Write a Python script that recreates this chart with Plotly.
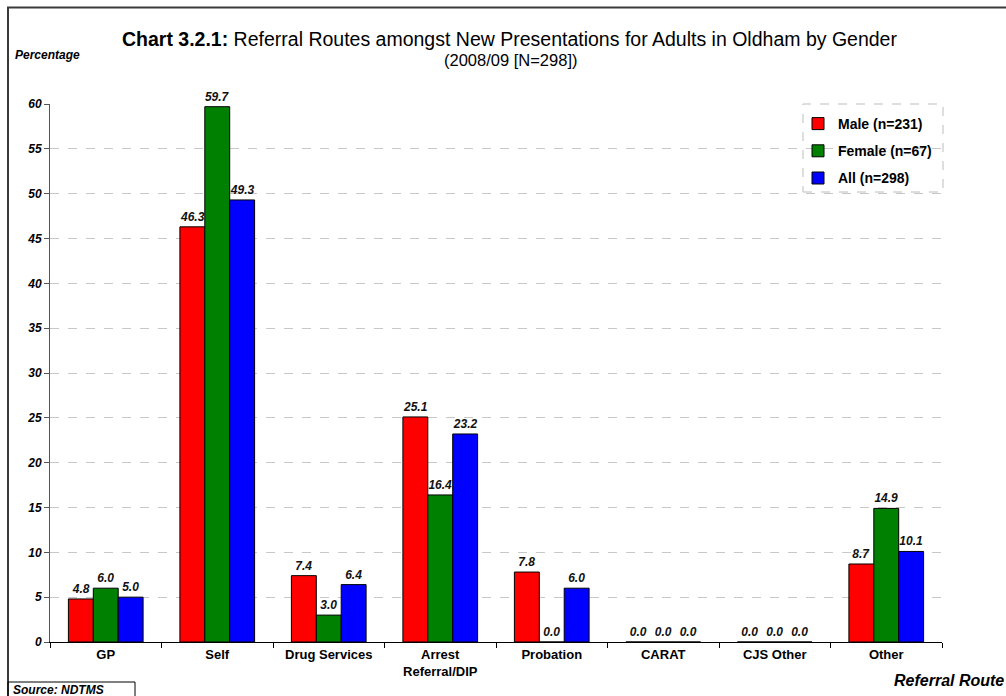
import plotly.graph_objects as go

# Referral routes (x-axis categories)
routes = ["GP", "Self", "Drug Services", "Arrest<br>Referral/DIP",
          "Probation", "CARAT", "CJS Other", "Other"]

# Percentages by gender group
male = [4.8, 46.3, 7.4, 25.1, 7.8, 0.0, 0.0, 8.7]
female = [6.0, 59.7, 3.0, 16.4, 0.0, 0.0, 0.0, 14.9]
all_people = [5.0, 49.3, 6.4, 23.2, 6.0, 0.0, 0.0, 10.1]

series_names = ["Male (n=231)", "Female (n=67)", "All (n=298)"]
series_colors = ["#ff0000", "#008000", "#0000ff"]
y_ticks = list(range(0, 61, 5))

FONT = "Liberation Sans, Arial, sans-serif"

fig = go.Figure()
for name, vals, col in zip(series_names, [male, female, all_people], series_colors):
    fig.add_trace(go.Bar(
        x=routes, y=vals, name=name, legendgroup=name,
        marker=dict(color=col, line=dict(color="#000000", width=1)),
        text=[f"{v:.1f}" for v in vals], textposition="outside",
        textfont=dict(family=FONT, size=12, color="#111111", weight="bold", style="italic"),
        cliponaxis=False,
    ))

# plot-area geometry in pixels (for paper-coordinate decorations)
W, H = 1006, 696
L, R, T, B = 50, 64, 104, 54
pw, ph = W - L - R, H - T - B


def px(x):
    return (x - L) / pw


def py(y):
    return (H - B - y) / ph


fig.update_layout(
    width=W, height=H,
    margin=dict(l=L, r=R, t=T, b=B),
    paper_bgcolor="white", plot_bgcolor="white",
    barmode="group", bargap=0.33, bargroupgap=0,
    font=dict(family=FONT, color="#000000"),
    showlegend=True,
    legend=dict(
        x=px(798), y=py(108), xanchor="left", yanchor="top",
        bgcolor="rgba(255,255,255,0)", borderwidth=0,
        font=dict(family=FONT, size=14, weight="bold"),
        tracegroupgap=6, itemwidth=30,
    ),
    xaxis=dict(
        showline=True, linecolor="#000000", linewidth=1,
        ticks="outside", ticklen=5, tickcolor="#000000", tickson="boundaries",
        tickfont=dict(family=FONT, size=13, weight="bold"),
        showgrid=False,
    ),
    yaxis=dict(
        range=[0, 60], tickvals=y_ticks,
        showline=True, linecolor="#555555", linewidth=1,
        ticks="outside", ticklen=5, tickcolor="#555555",
        tickfont=dict(family=FONT, size=12, weight="bold", style="italic"),
        showgrid=True, gridcolor="#c8c8c8", griddash="dash", gridwidth=1,
        zeroline=False,
    ),
    shapes=[
        # outer chart frame
        dict(type="rect", xref="paper", yref="paper",
             x0=px(8), x1=px(1012), y0=py(702), y1=py(7.5),
             line=dict(color="#3a3a3a", width=2), layer="below"),
        # legend box
        dict(type="rect", xref="paper", yref="paper",
             x0=px(803), x1=px(943), y0=py(192), y1=py(104),
             fillcolor="white", line=dict(color="#bdbdbd", width=1, dash="dash"),
             layer="below"),
        # source box
        dict(type="rect", xref="paper", yref="paper",
             x0=px(8), x1=px(135), y0=py(702), y1=py(682),
             line=dict(color="#000000", width=1)),
    ],
    annotations=[
        dict(text="<b>Chart 3.2.1:</b> Referral Routes amongst New Presentations for Adults in Oldham by Gender",
             xref="paper", yref="paper", x=px(509), y=py(39), xanchor="center", yanchor="middle",
             showarrow=False, font=dict(family=FONT, size=19.5, color="#000000")),
        dict(text="(2008/09 [N=298])",
             xref="paper", yref="paper", x=px(510), y=py(60), xanchor="center", yanchor="middle",
             showarrow=False, font=dict(family=FONT, size=16.5, color="#000000")),
        dict(text="Percentage",
             xref="paper", yref="paper", x=px(13), y=py(55), xanchor="left", yanchor="middle",
             showarrow=False, font=dict(family=FONT, size=12, weight="bold", style="italic")),
        dict(text="Referral Route",
             xref="paper", yref="paper", x=px(1006), y=py(680), xanchor="right", yanchor="middle",
             showarrow=False, font=dict(family=FONT, size=16, weight="bold", style="italic")),
        dict(text="Source: NDTMS",
             xref="paper", yref="paper", x=px(11), y=py(690), xanchor="left", yanchor="middle",
             showarrow=False, font=dict(family=FONT, size=12, weight="bold", style="italic")),
    ],
)

fig.write_html("out.html")
